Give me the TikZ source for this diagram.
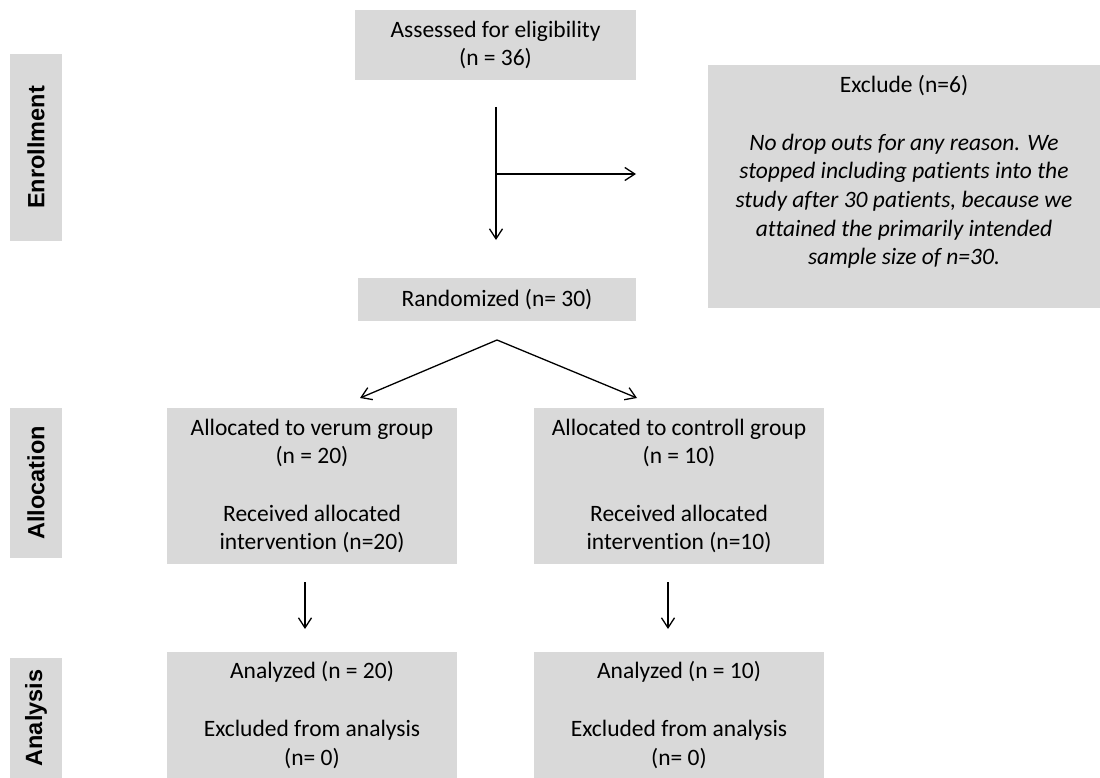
\documentclass[tikz,border=0pt]{standalone}
\usepackage{fontspec}
\setmainfont{Carlito}[Ligatures={NoCommon,NoContextual}]
\newfontfamily\sidefont{Liberation Sans}
\usetikzlibrary{arrows.meta}
\definecolor{boxgray}{HTML}{D9D9D9}
\begin{document}
\begin{tikzpicture}[x=1pt,y=-1pt,
  box/.style={fill=boxgray, draw=none, inner sep=0pt, align=center,
    font=\fontsize{23.5pt}{28.7pt}\selectfont},
  txt/.style={inner sep=0pt, align=center, font=\fontsize{23.5pt}{28.7pt}\selectfont},
  side/.style={fill=boxgray, draw=none, inner sep=0pt, rotate=90, minimum height=52pt,
    font=\sidefont\bfseries\fontsize{23.5pt}{28pt}\selectfont},
  arr/.style={line width=1.3pt, -{Straight Barb[length=10pt,width=13pt]}}]
\useasboundingbox (0,0) rectangle (1100,778);

% phase labels
\node[side, minimum width=187pt] (enr) at (36,147.5) {Enrollment};
\node[side, minimum width=150pt] (alloc) at (36,483) {Allocation};
\node[side, minimum width=120pt] (anal) at (36,718) {Analysis};

% boxes
\node[box, minimum width=281pt, minimum height=70pt] (assess) at (495.5,45)
  {Assessed for eligibility\\(n = 36)};
\node[box, minimum width=392pt, minimum height=243pt] (excl) at (904,186.5) {};
\node[txt] (excltext) at (904,172)
  {Exclude (n=6)\\[28.7pt]
   \itshape No drop outs for any reason. We\\
   \itshape stopped including patients into the\\
   \itshape study after 30 patients, because we\\
   \itshape attained the primarily intended\\
   \itshape sample size of n=30.};
\node[box, minimum width=278pt, minimum height=43pt] (rand) at (497,299.5)
  {Randomized (n= 30)};
\node[box, minimum width=290pt, minimum height=156pt] (verum) at (312,486)
  {Allocated to verum group\\(n = 20)\\[28.7pt]Received allocated\\intervention (n=20)};
\node[box, minimum width=290pt, minimum height=156pt] (ctrl) at (679,486)
  {Allocated to controll group\\(n = 10)\\[28.7pt]Received allocated\\intervention (n=10)};
\node[box, minimum width=290pt, minimum height=126pt] (anv) at (312,715)
  {Analyzed (n = 20)\\[28.7pt]Excluded from analysis\\(n= 0)};
\node[box, minimum width=290pt, minimum height=126pt] (anc) at (679,715)
  {Analyzed (n = 10)\\[28.7pt]Excluded from analysis\\(n= 0)};

% connector points
\coordinate (vtop) at (496,107);
\coordinate (vbot) at (496,240);
\coordinate (split) at (496,174);
\coordinate (splitend) at (636,174);
\coordinate (apex) at (497,340);
\coordinate (tipl) at (360,398);
\coordinate (tipr) at (637,398);
\coordinate (dl1) at (305,582);
\coordinate (dl2) at (305,629);
\coordinate (dr1) at (668,582);
\coordinate (dr2) at (668,629);

\draw[arr] (vtop) -- (vbot);
\draw[arr] (split) -- (splitend);
\draw[arr] (apex) -- (tipl);
\draw[arr] (apex) -- (tipr);
\draw[arr] (dl1) -- (dl2);
\draw[arr] (dr1) -- (dr2);
\end{tikzpicture}
\end{document}
